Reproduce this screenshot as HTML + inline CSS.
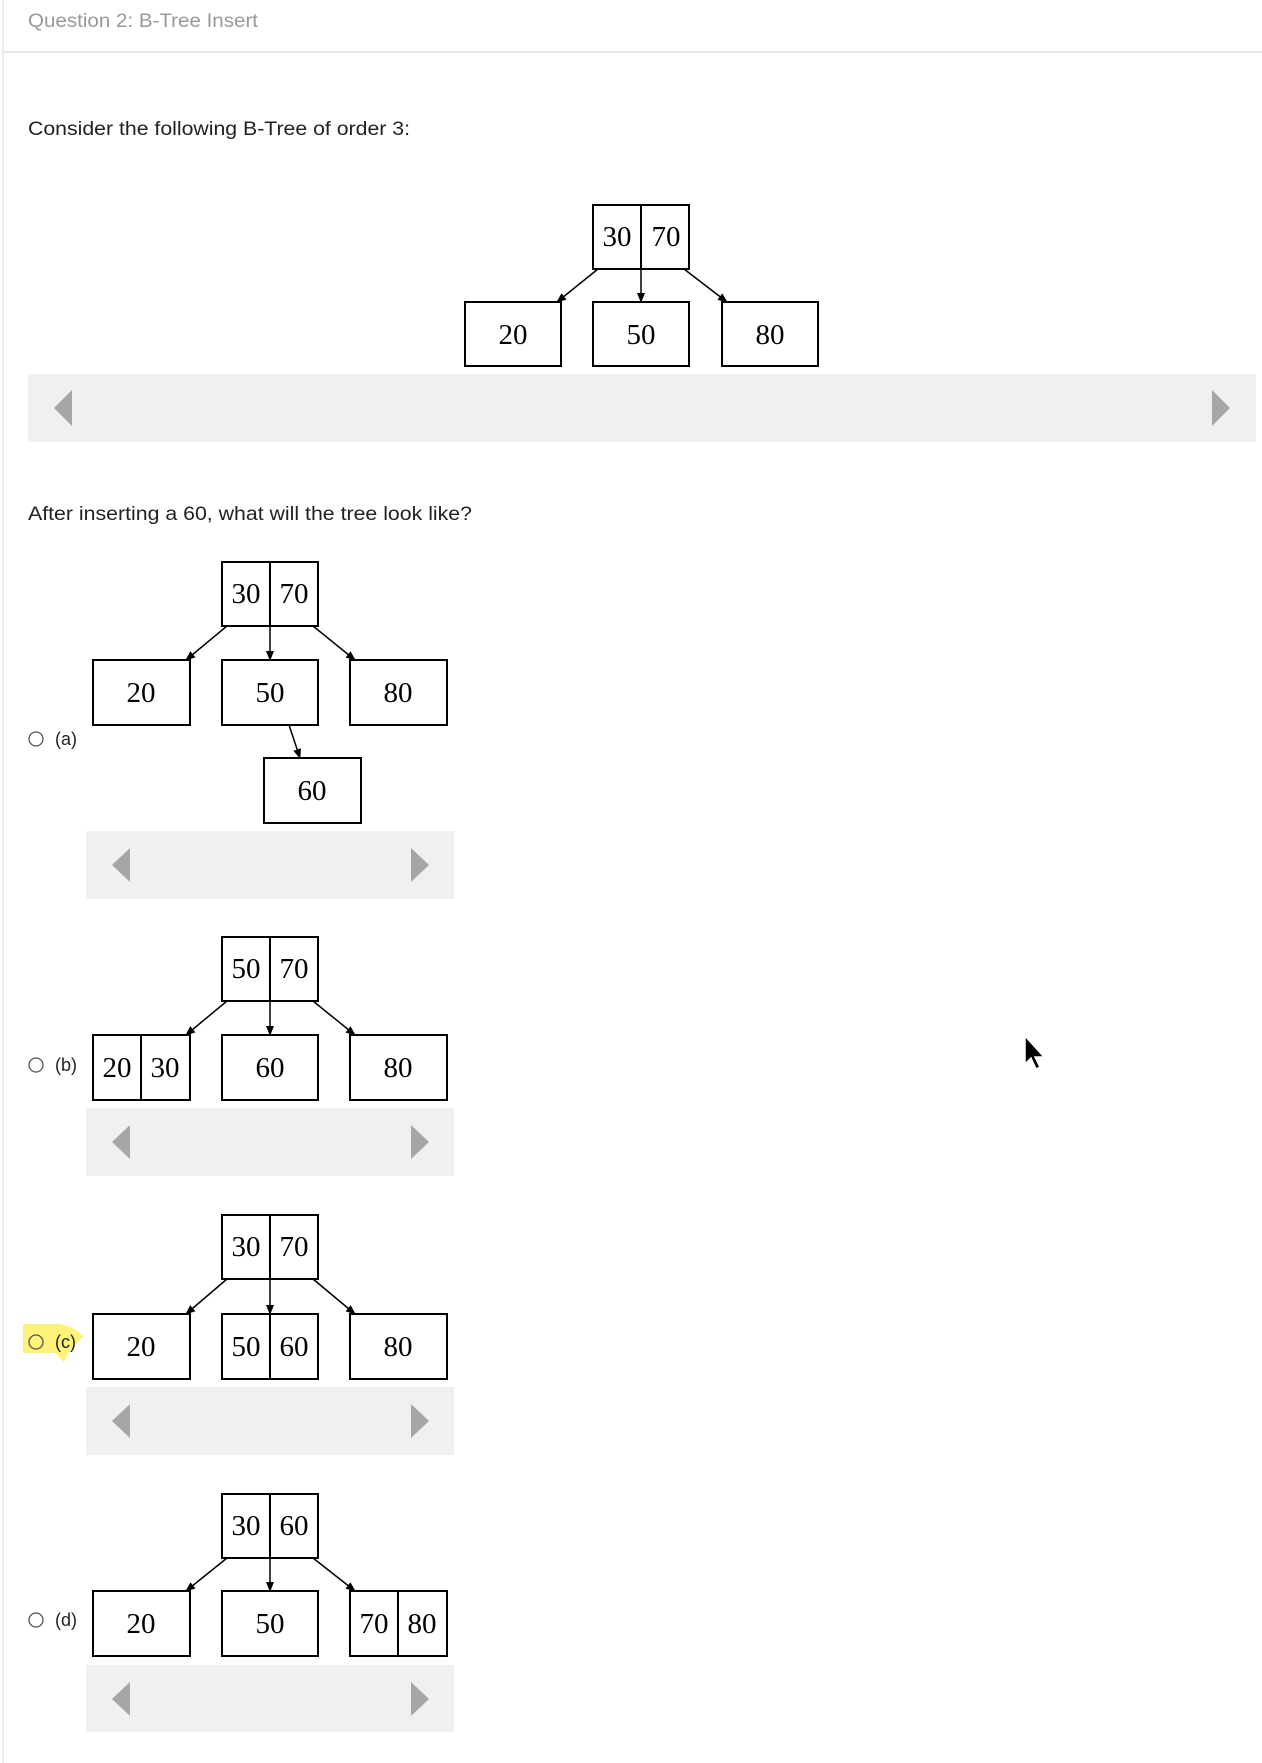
<!DOCTYPE html>
<html><head><meta charset="utf-8"><style>
html,body{margin:0;padding:0;background:#fff;width:1262px;height:1763px;overflow:hidden}
svg{display:block}
.ui{font-family:"Liberation Sans",sans-serif}
.n{font-family:"Liberation Serif",serif;font-size:29px;fill:#000;text-anchor:middle}
</style></head><body>
<svg width="1262" height="1763" viewBox="0 0 1262 1763" xmlns="http://www.w3.org/2000/svg">
<defs>
<marker id="ah" markerWidth="10" markerHeight="10" refX="9" refY="5" orient="auto" markerUnits="userSpaceOnUse">
<path d="M0,1 L10,5 L0,9 Z" fill="#000"/>
</marker>
</defs>
<rect x="2" y="0" width="2" height="1763" fill="#eee"/>
<rect x="2" y="51" width="1260" height="2" fill="#e6e6e6"/>
<text x="28" y="27" class="ui" font-size="19" fill="#999" textLength="230" lengthAdjust="spacingAndGlyphs">Question 2: B-Tree Insert</text>
<text x="28" y="135" class="ui" font-size="19" fill="#222" textLength="382" lengthAdjust="spacingAndGlyphs">Consider the following B-Tree of order 3:</text>

<rect x="28" y="374" width="1228" height="68" fill="#f0f0f0"/>
<rect x="465" y="366" width="357" height="8" fill="#fff"/>
<path d="M54,408 L72,390 L72,426 Z" fill="#a6a6a6"/>
<path d="M1230,408 L1212,390 L1212,426 Z" fill="#a6a6a6"/>

<g stroke="#000" stroke-width="2" fill="none">
<rect x="593" y="205" width="96" height="64"/><line x1="641" y1="205" x2="641" y2="269"/>
<rect x="465" y="302" width="96" height="64"/>
<rect x="593" y="302" width="96" height="64"/>
<rect x="722" y="302" width="96" height="64"/>
<line x1="598" y1="269" x2="557" y2="302" marker-end="url(#ah)" stroke-width="1.5"/>
<line x1="641" y1="250" x2="641" y2="302" marker-end="url(#ah)" stroke-width="1.5"/>
<line x1="684" y1="269" x2="727" y2="302" marker-end="url(#ah)" stroke-width="1.5"/>
</g>
<text class="n" x="617" y="246">30</text><text class="n" x="666" y="246">70</text>
<text class="n" x="513" y="344">20</text><text class="n" x="641" y="344">50</text><text class="n" x="770" y="344">80</text>

<text x="28" y="520" class="ui" font-size="19" fill="#222" textLength="444" lengthAdjust="spacingAndGlyphs">After inserting a 60, what will the tree look like?</text>

<g stroke="#000" stroke-width="2" fill="none">
<rect x="222" y="562" width="96" height="64"/><line x1="270" y1="562" x2="270" y2="626"/>
<rect x="93" y="660" width="97" height="65"/>
<rect x="222" y="660" width="96" height="65"/>
<rect x="350" y="660" width="97" height="65"/>
<rect x="264" y="758" width="97" height="65"/>
<line x1="227" y1="626" x2="186" y2="660" marker-end="url(#ah)" stroke-width="1.5"/>
<line x1="270" y1="607" x2="270" y2="660" marker-end="url(#ah)" stroke-width="1.5"/>
<line x1="313" y1="626" x2="355" y2="660" marker-end="url(#ah)" stroke-width="1.5"/>
<line x1="289" y1="725" x2="300" y2="758" marker-end="url(#ah)" stroke-width="1.5"/>
</g>
<text class="n" x="246" y="603">30</text><text class="n" x="294" y="603">70</text>
<text class="n" x="141" y="702">20</text><text class="n" x="270" y="702">50</text><text class="n" x="398" y="702">80</text>
<text class="n" x="312" y="800">60</text>
<circle cx="36" cy="739" r="7" fill="none" stroke="#555" stroke-width="1.3"/>
<text x="55" y="745" class="ui" font-size="18" fill="#222">(a)</text>
<rect x="86" y="831" width="368" height="68" fill="#f0f0f0"/>
<path d="M112,865 L130,848 L130,882 Z" fill="#a6a6a6"/>
<path d="M429,865 L411,848 L411,882 Z" fill="#a6a6a6"/>

<g stroke="#000" stroke-width="2" fill="none">
<rect x="222" y="937" width="96" height="64"/><line x1="270" y1="937" x2="270" y2="1001"/>
<rect x="93" y="1035" width="97" height="65"/><line x1="141" y1="1035" x2="141" y2="1100"/>
<rect x="222" y="1035" width="96" height="65"/>
<rect x="350" y="1035" width="97" height="65"/>
<line x1="227" y1="1001" x2="186" y2="1035" marker-end="url(#ah)" stroke-width="1.5"/>
<line x1="270" y1="982" x2="270" y2="1035" marker-end="url(#ah)" stroke-width="1.5"/>
<line x1="313" y1="1001" x2="355" y2="1035" marker-end="url(#ah)" stroke-width="1.5"/>
</g>
<text class="n" x="246" y="978">50</text><text class="n" x="294" y="978">70</text>
<text class="n" x="117" y="1077">20</text><text class="n" x="165" y="1077">30</text>
<text class="n" x="270" y="1077">60</text><text class="n" x="398" y="1077">80</text>
<circle cx="36" cy="1065" r="7" fill="none" stroke="#555" stroke-width="1.3"/>
<text x="55" y="1071" class="ui" font-size="18" fill="#222">(b)</text>
<rect x="86" y="1108" width="368" height="68" fill="#f0f0f0"/>
<path d="M112,1142 L130,1125 L130,1159 Z" fill="#a6a6a6"/>
<path d="M429,1142 L411,1125 L411,1159 Z" fill="#a6a6a6"/>

<path d="M23,1324 L60,1324 Q78,1328 83,1337 L70,1350 L64,1362 L55,1353 L23,1353 Z" fill="#fff27a"/>
<g stroke="#000" stroke-width="2" fill="none">
<rect x="222" y="1215" width="96" height="64"/><line x1="270" y1="1215" x2="270" y2="1279"/>
<rect x="93" y="1314" width="97" height="65"/>
<rect x="222" y="1314" width="96" height="65"/><line x1="270" y1="1314" x2="270" y2="1379"/>
<rect x="350" y="1314" width="97" height="65"/>
<line x1="227" y1="1279" x2="186" y2="1314" marker-end="url(#ah)" stroke-width="1.5"/>
<line x1="270" y1="1260" x2="270" y2="1314" marker-end="url(#ah)" stroke-width="1.5"/>
<line x1="313" y1="1279" x2="355" y2="1314" marker-end="url(#ah)" stroke-width="1.5"/>
</g>
<text class="n" x="246" y="1256">30</text><text class="n" x="294" y="1256">70</text>
<text class="n" x="141" y="1356">20</text>
<text class="n" x="246" y="1356">50</text><text class="n" x="294" y="1356">60</text>
<text class="n" x="398" y="1356">80</text>
<circle cx="36" cy="1342" r="7" fill="none" stroke="#555" stroke-width="1.3"/>
<text x="55" y="1348" class="ui" font-size="18" fill="#222">(c)</text>
<rect x="86" y="1387" width="368" height="68" fill="#f0f0f0"/>
<path d="M112,1421 L130,1404 L130,1438 Z" fill="#a6a6a6"/>
<path d="M429,1421 L411,1404 L411,1438 Z" fill="#a6a6a6"/>

<g stroke="#000" stroke-width="2" fill="none">
<rect x="222" y="1494" width="96" height="64"/><line x1="270" y1="1494" x2="270" y2="1558"/>
<rect x="93" y="1591" width="97" height="65"/>
<rect x="222" y="1591" width="96" height="65"/>
<rect x="350" y="1591" width="97" height="65"/><line x1="398" y1="1591" x2="398" y2="1656"/>
<line x1="227" y1="1558" x2="186" y2="1591" marker-end="url(#ah)" stroke-width="1.5"/>
<line x1="270" y1="1539" x2="270" y2="1591" marker-end="url(#ah)" stroke-width="1.5"/>
<line x1="313" y1="1558" x2="355" y2="1591" marker-end="url(#ah)" stroke-width="1.5"/>
</g>
<text class="n" x="246" y="1535">30</text><text class="n" x="294" y="1535">60</text>
<text class="n" x="141" y="1633">20</text><text class="n" x="270" y="1633">50</text>
<text class="n" x="374" y="1633">70</text><text class="n" x="422" y="1633">80</text>
<circle cx="36" cy="1620" r="7" fill="none" stroke="#555" stroke-width="1.3"/>
<text x="55" y="1626" class="ui" font-size="18" fill="#222">(d)</text>
<rect x="86" y="1665" width="368" height="67" fill="#f0f0f0"/>
<path d="M112,1699 L130,1682 L130,1716 Z" fill="#a6a6a6"/>
<path d="M429,1699 L411,1682 L411,1716 Z" fill="#a6a6a6"/>

<path d="M1025,1036 L1025,1064 L1031,1058 L1036,1069 L1040,1067 L1035,1057 L1044,1057 Z" fill="#000" stroke="#fff" stroke-width="1.5"/>
</svg>
</body></html>
